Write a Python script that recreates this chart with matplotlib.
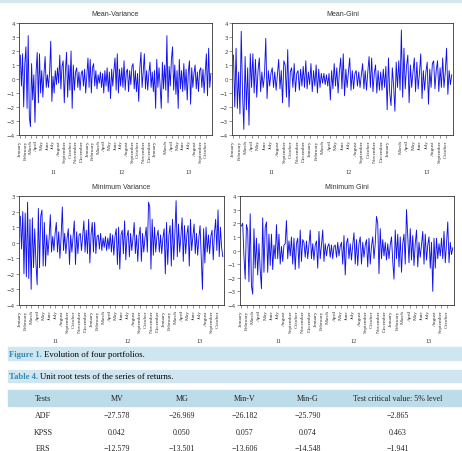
import numpy as np
import pandas as pd
import matplotlib
matplotlib.use('Agg')
import matplotlib.pyplot as plt
from matplotlib.patches import Rectangle
import matplotlib.transforms as mtransforms

# weekly-ish returns, 5 values per month, Jan 2011 - Oct 2013
mv = [1.7, -0.5, 1.8, -2.0, 1.1,  2.3, -2.1, 3.1, -2.7, -3.4,  1.1, -1.5, 0.3, -3.1, 0.5,
      1.9, -1.7, 1.8, -1.0, 0.6,  -1.3, 0.4, 1.6, -0.6, 0.3,  -0.6, 0.5, 2.7, -1.6, 0.2,
      -1.0, 0.6, -0.4, 0.8, -0.3,  1.7, -0.7, 0.9, 1.3, -1.7,  0.6, 1.9, -1.3, 1.0, -0.8,
      2.0, -2.1, 1.0, -0.8, 0.5,  0.8, -0.6, 0.5, -0.8, 0.4,  0.6, -0.5, 0.7, -1.0, 0.3,
      1.5, -0.6, 1.4, -1.0, 0.8,  1.1, -0.5, 0.6, -0.7, 0.3,  -0.3, 0.5, -0.6, 0.4, -1.0,
      0.6, -0.5, 0.8, -0.9, 0.5,  -1.4, 0.7, -0.5, 0.6, 1.5,  -0.8, 1.8, -1.0, 0.7, -0.5,
      0.8, -0.6, 1.3, -0.8, 0.5,  0.7, -0.9, 0.6, -0.4, 0.9,  1.1, -0.7, 0.6, -0.9, 0.4,
      -1.6, 0.8, 1.9, -0.6, 0.5,  1.8, -0.7, 0.6, -0.8, 0.4,  1.2, -0.6, 0.5, -0.9, 0.6,
      -2.1, 1.4, -0.6, 0.8, -0.5,  -2.1, 1.2, -0.7, 1.0, -0.8,  3.1, -1.7, 0.9, -0.5, 1.4,
      2.3, -0.8, 1.0, -1.1, 0.6,  -2.1, 1.4, -0.7, 0.6, -0.9,  1.1, -0.8, 0.7, -1.5, 0.5,
      1.3, -1.8, 0.8, -0.6, 0.4,  1.0, -0.7, 0.5, -0.9, 0.6,  0.8, -0.6, 0.7, -1.0, 0.5,
      1.8, -1.2, 2.2, -0.6, 0.4]
mg = [1.7, -2.0, 2.2, -2.1, 0.5,  -2.5, 3.4, -1.0, -3.6, 1.6,  -2.2, 0.8, -3.3, 1.8, -0.6,
      1.8, -1.0, 1.4, -1.3, 0.6,  1.5, -0.9, 0.5, -0.6, 0.3,  2.9, -1.4, 0.6, -0.5, 0.4,
      0.8, -0.6, 0.5, -0.8, 0.3,  1.4, -0.7, 0.6, -1.7, 1.3,  1.0, -1.3, 2.1, -2.0, 0.5,
      0.8, -0.6, 1.1, -0.9, 0.4,  0.6, -0.8, 0.7, -0.5, 0.9,  -0.6, 1.3, -0.7, 0.5, -0.4,
      1.1, -0.9, 0.6, -0.5, 1.0,  -1.0, 0.7, -0.6, 0.4, -0.3,  0.4, -0.4, 0.3, -0.5, 0.4,
      -1.5, 0.6, -0.7, 1.1, -0.5,  0.8, -1.0, 0.5, 1.5, -0.7,  1.8, -1.2, 0.7, -0.6, 0.5,
      1.5, -0.8, 0.6, -0.7, 0.4,  0.6, -0.5, 0.5, -0.6, 0.3,  1.1, -0.7, 0.6, -0.8, 0.5,
      1.6, -0.6, 1.5, -0.9, 0.4,  1.0, -1.0, 0.6, -0.8, 0.5,  -0.8, 0.7, -0.6, 0.9, -2.2,
      1.5, -1.0, -1.9, 0.8, -0.5,  -2.3, 1.2, -0.6, 1.3, -0.8,  3.5, -1.3, 2.2, -0.7, 0.9,
      1.7, -1.7, 1.0, -0.6, 0.5,  1.5, -0.9, 1.2, -0.7, 0.4,  1.8, -1.4, 0.6, -0.8, 0.5,
      1.2, -1.8, 0.7, -0.6, 1.1,  1.3, -0.7, 0.6, 1.3, -0.9,  0.8, -0.6, 1.5, -0.6, 0.5,
      2.2, -1.1, 0.6, -0.4, 0.3]
minv = [1.7, -0.4, 2.0, -2.0, 1.9,  -2.2, 2.6, -2.3, 1.5, -3.0,  1.6, -1.6, 0.9, -1.3, -2.7,
        2.2, -1.6, 1.7, 2.1, -1.5,  1.3, -1.5, 0.5, -0.8, 0.3,  1.8, -0.6, 0.4, -0.5, 0.6,
        1.3, -0.6, 0.7, -1.0, 0.4,  2.3, -0.5, 0.6, -0.7, 0.3,  0.9, -1.4, 0.5, -0.6, 0.4,
        1.4, -1.4, 0.7, -0.7, 0.5,  0.6, -0.5, 0.4, 1.4, -0.6,  0.8, -0.7, 1.5, -1.3, 0.5,
        1.3, -0.6, 1.3, -0.7, 0.4,  0.5, -0.4, 0.6, -0.5, 0.3,  -0.3, 0.4, -0.5, 0.3, -0.4,
        0.6, -0.6, 0.5, -0.8, 0.4,  0.9, -1.4, 1.0, -1.7, 0.5,  0.8, -0.7, 1.4, -1.1, 0.4,
        0.8, -0.9, 0.6, -0.5, 0.3,  1.3, -0.7, 0.5, -1.2, 0.4,  1.0, -1.2, 0.6, -0.6, 0.3,
        1.0, -0.6, 2.6, 2.3, -1.7,  1.5, -0.8, 1.0, -0.6, 0.4,  0.8, -0.6, 0.5, -0.7, 0.3,
        0.9, -2.0, 1.3, -1.4, 0.5,  1.1, -1.5, 1.5, -1.1, 0.6,  2.7, -0.9, 1.2, -0.6, 0.4,
        1.6, -1.2, 1.1, -0.7, 0.5,  1.1, -1.5, 1.5, -0.5, 0.4,  1.2, -0.7, 0.6, -0.8, 0.3,
        1.1, -1.0, -3.0, 0.9, -1.3,  1.0, -0.6, 0.5, -0.7, 0.4,  0.8, -1.1, 0.6, 1.5, -0.5,
        2.1, -0.9, 1.0, -0.3, -0.9]
ming = [1.8, 2.0, -0.4, -2.1, 1.9,  1.5, -2.3, 2.7, -2.6, -3.2,  1.6, -1.3, 0.9, -1.8, 0.5,
        -1.4, -2.8, 2.4, -1.6, 1.7,  2.1, -1.6, 1.2, -1.1, 1.2,  -1.4, 0.4, -0.6, 1.9, -0.6,
        1.2, -1.0, 0.3, -0.8, 0.4,  0.5, 2.2, -0.6, 0.7, -0.4,  1.0, -1.0, 0.9, -1.4, 0.5,
        0.9, -1.3, 1.5, -0.8, 0.8,  0.6, -0.5, 0.7, -0.6, 0.4,  1.5, -0.6, 0.5, -0.7, 0.4,
        0.7, -1.3, 1.4, -0.6, 0.4,  1.5, -0.8, 0.5, -0.4, 0.3,  0.5, -0.5, 0.4, -0.6, 0.3,
        0.4, -0.5, 0.6, -0.4, 0.3,  0.6, -1.0, 1.1, -1.8, 0.5,  0.9, -0.6, 0.5, -0.7, 0.4,
        1.3, -1.0, 0.8, -1.1, 0.5,  1.0, -1.0, 0.6, -0.5, 0.4,  0.8, -1.2, 0.9, -1.0, 0.3,
        1.0, -0.6, 0.5, 2.5, 2.0,  -1.7, 1.6, -0.6, 0.8, -0.4,  0.6, -0.7, 0.5, -0.6, 0.4,
        1.0, -0.8, -2.1, 1.5, -0.6,  1.2, -1.2, 1.0, -1.6, 0.5,  1.2, -1.0, 3.0, 1.1, -0.9,
        1.6, -0.7, 1.1, -1.1, 0.5,  1.5, -1.2, 0.6, -0.5, 0.4,  1.4, -1.0, 1.2, -0.7, 0.4,
        1.0, -1.3, 0.6, -3.0, 0.9,  -1.3, 0.9, -0.6, 0.5, -0.4,  0.9, -0.6, 1.4, -0.9, 0.5,
        2.1, -0.9, 0.6, -0.3, 0.2]

titles = ['Mean-Variance', 'Mean-Gini', 'Minimum Variance', 'Minimum Gini']
ylims = [(-4, 4), (-4, 4), (-4, 3), (-4, 4)]
years = ['11', '12', '13']

tests = ['ADF', 'KPSS', 'ERS']
cols = ['Tests', 'MV', 'MG', 'Min-V', 'Min-G', 'Test critical value: 5% level']
adf = ['\u221227.578', '\u221226.969', '\u221226.182', '\u221225.790', '\u22122.865']
kpss = ['0.042', '0.050', '0.057', '0.074', '0.463']
ers = ['\u221212.579', '\u221213.501', '\u221213.606', '\u221214.548', '\u22121.941']

W, H = 462, 452
fig = plt.figure(figsize=(W/100, H/100), dpi=100)

def px(x0, y0, x1, y1):
    # pixel box -> figure rect
    return [x0/W, 1 - y1/H, (x1 - x0)/W, (y1 - y0)/H]

boxes = [px(19, 24, 212, 136), px(232, 24, 453, 136),
         px(19, 197, 224, 306), px(240, 197, 454, 306)]
series = [mv, mg, minv, ming]
months = pd.date_range('2011-01-01', '2013-10-01', freq='MS')

for k, (vals, box) in enumerate(zip(series, boxes)):
    ax = fig.add_axes(box)
    dates = pd.date_range('2011-01-04', '2013-10-28', periods=len(vals))
    ax.plot(dates, vals, color='#1010ee', lw=0.65)
    ax.set_xlim(pd.Timestamp('2010-12-28'), pd.Timestamp('2013-11-03'))
    ax.set_ylim(*ylims[k])
    ax.set_yticks(range(ylims[k][0], ylims[k][1] + 1))
    ticks = [m for m in months if not (k < 2 and m == pd.Timestamp('2013-02-01'))]
    ax.set_xticks(ticks)
    ax.set_xticklabels([m.strftime('%B') for m in ticks], rotation=90,
                       fontsize=3.9, family='Liberation Serif', color='#333333')
    ax.tick_params(axis='x', length=2, width=0.4, pad=1, color='#444444')
    ax.tick_params(axis='y', length=2, width=0.4, pad=1, labelsize=4,
                   labelcolor='#444444', color='#444444')
    for s in ax.spines.values():
        s.set_linewidth(0.6)
        s.set_color('#333333')
    ax.set_title(titles[k], fontsize=5, family='Liberation Sans', color='#333333', pad=6)
    trans = mtransforms.blended_transform_factory(ax.transData, ax.transAxes)
    for y, lab in zip([2011, 2012, 2013], years):
        ax.text(pd.Timestamp(f'{y}-07-01'), -0.33, lab, transform=trans, ha='center',
                va='center', fontsize=4.5, family='Liberation Serif', color='#333333')

# page decorations
def band(y0, y1, color, x0=8):
    fig.patches.append(Rectangle((x0/W, 1 - y1/H), (W - x0)/W, (y1 - y0)/H,
                                 transform=fig.transFigure, color=color, zorder=0))

band(0, 3, '#d5e8f0', x0=0)
band(348, 361, '#cfe6f0')
band(371, 383, '#cfe6f0')
band(391, 407, '#bcdcea')

def ftext(x, y, s, **kw):
    kw.setdefault('family', 'Liberation Serif')
    kw.setdefault('fontsize', 5.8)
    kw.setdefault('va', 'center')
    return fig.text(x/W, 1 - y/H, s, **kw)

t = ftext(9, 355, 'Figure 1.', color='#2f8ab5', fontweight='bold', fontsize=6.2)
fig.canvas.draw()
bb = t.get_window_extent()
ftext(bb.x1 + 2, 355, 'Evolution of four portfolios.', color='black', fontsize=6.3)
t = ftext(9, 377, 'Table 4.', color='#2f8ab5', fontweight='bold', fontsize=6.2)
bb = t.get_window_extent()
ftext(bb.x1 + 2, 377, 'Unit root tests of the series of returns.', color='black', fontsize=6.3)

xs = [43, 117, 182, 245, 308, 398]
for x, c in zip(xs, cols):
    ftext(x, 399, c, ha='center', color='#222222')
for yy, name, row in zip([416, 433, 449], tests, [adf, kpss, ers]):
    ftext(xs[0], yy, name, ha='center', color='#222222')
    for x, v in zip(xs[1:], row):
        ftext(x, yy, v, ha='center', color='#222222')

fig.savefig('out.png', dpi=100)
